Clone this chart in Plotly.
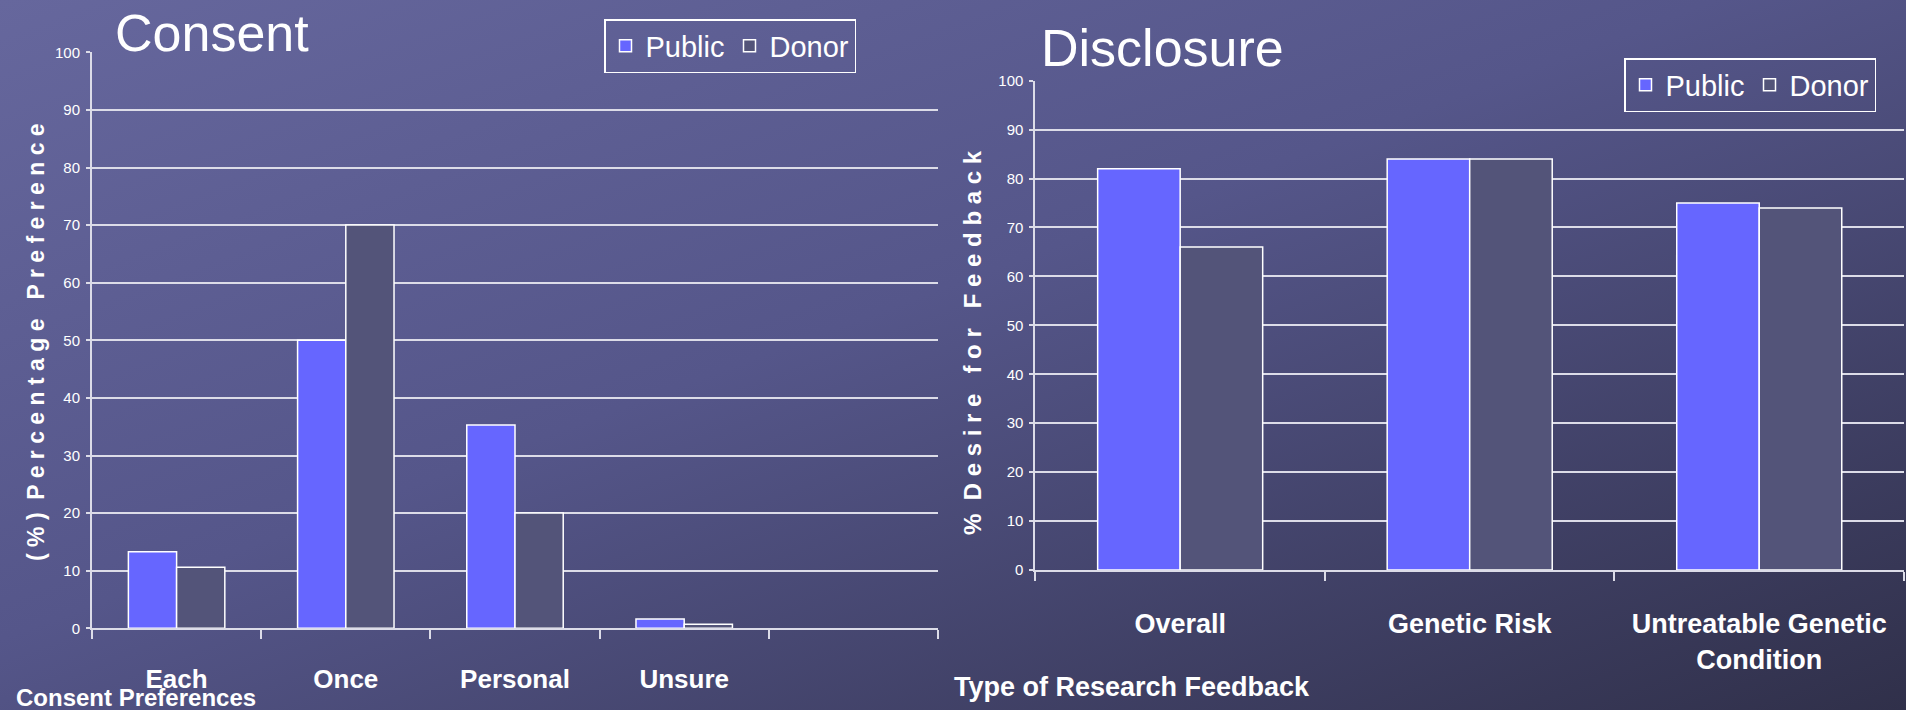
import base64
import plotly.graph_objects as go

# ---------------- data ----------------
consent_categories = ["Each", "Once", "Personal", "Unsure"]
consent_public = [13.3, 50.0, 35.3, 1.6]
consent_donor = [10.6, 70.0, 20.0, 0.7]
consent_axis_slots = consent_categories + [" "]   # the chart keeps one empty slot at the right

disclosure_categories = ["Overall", "Genetic Risk", "Untreatable Genetic<br>Condition"]
disclosure_public = [82.0, 84.0, 75.0]
disclosure_donor = [66.0, 84.0, 74.0]

series_names = ["Public", "Donor"]
y_ticks = [0, 10, 20, 30, 40, 50, 60, 70, 80, 90, 100]

# ---------------- styling ----------------
W, H = 1906, 710
FONT = "Liberation Sans, Arial, sans-serif"
PUBLIC_COLOR = "#6666ff"
DONOR_COLOR = "#535479"
GRID = "#dcdce8"
WHITE = "#ffffff"

def px_x(p):
    return p / W

def px_y(p):
    return 1 - p / H

svg = f"""<svg xmlns='http://www.w3.org/2000/svg' width='{W}' height='{H}' viewBox='0 0 {W} {H}' preserveAspectRatio='none'>
<defs><linearGradient id='g' x1='0' y1='0' x2='1' y2='1'>
<stop offset='0' stop-color='#66679d'/>
<stop offset='0.45' stop-color='#55568a'/>
<stop offset='1' stop-color='#30304a'/>
</linearGradient></defs>
<rect width='{W}' height='{H}' fill='url(#g)'/>
</svg>"""
bg_src = "data:image/svg+xml;base64," + base64.b64encode(svg.encode()).decode()

fig = go.Figure()

fig.add_trace(go.Bar(x=consent_categories, y=consent_public, name=series_names[0],
                     marker=dict(color=PUBLIC_COLOR, line=dict(color=WHITE, width=1.5)),
                     xaxis="x", yaxis="y", legend="legend"))
fig.add_trace(go.Bar(x=consent_categories, y=consent_donor, name=series_names[1],
                     marker=dict(color=DONOR_COLOR, line=dict(color=WHITE, width=1.5)),
                     xaxis="x", yaxis="y", legend="legend"))
fig.add_trace(go.Bar(x=disclosure_categories, y=disclosure_public, name=series_names[0],
                     marker=dict(color=PUBLIC_COLOR, line=dict(color=WHITE, width=1.5)),
                     xaxis="x2", yaxis="y2", legend="legend2"))
fig.add_trace(go.Bar(x=disclosure_categories, y=disclosure_donor, name=series_names[1],
                     marker=dict(color=DONOR_COLOR, line=dict(color=WHITE, width=1.5)),
                     xaxis="x2", yaxis="y2", legend="legend2"))

xaxis_common = dict(type="category", showline=True, linecolor=GRID, linewidth=2, automargin=False,
                    ticks="outside", tickson="boundaries", ticklen=9, tickcolor=GRID, tickwidth=2,
                    showgrid=False, zeroline=False, tickangle=0)
yaxis_common = dict(range=[0, 100], tickvals=y_ticks, showline=True, linecolor=GRID, linewidth=2,
                    ticks="outside", ticklen=4, tickcolor=GRID, tickwidth=2, automargin=False,
                    showgrid=True, gridcolor=GRID, gridwidth=2, zeroline=False,
                    tickfont=dict(family=FONT, size=15, color=WHITE), ticklabelstandoff=3)

legend_common = dict(orientation="h", bgcolor="rgba(0,0,0,0)", bordercolor=WHITE, borderwidth=1.5,
                     font=dict(family=FONT, size=29, color=WHITE), xanchor="left", yanchor="top",
                     itemwidth=30, tracegroupgap=0)

def note(text, x, y, size, bold=True, angle=0, xanchor="center", yanchor="middle"):
    return dict(text=text, x=px_x(x), y=px_y(y), xref="paper", yref="paper",
                xanchor=xanchor, yanchor=yanchor, textangle=angle, showarrow=False,
                font=dict(family=FONT, size=size, color=WHITE, weight="bold" if bold else "normal"))

fig.update_layout(
    width=W, height=H,
    margin=dict(l=0, r=0, t=0, b=0),
    paper_bgcolor="#545583", plot_bgcolor="rgba(0,0,0,0)",
    barmode="group", bargap=0.43, bargroupgap=0,
    showlegend=True,
    xaxis=dict(domain=[px_x(92), px_x(938)], anchor="y", range=[-0.5, 4.5],
               categoryorder="array", categoryarray=consent_axis_slots,
               tickfont=dict(family=FONT, size=26, color=WHITE, weight="bold"),
               ticklabelstandoff=26, **xaxis_common),
    yaxis=dict(domain=[px_y(628.3), px_y(52.3)], anchor="x", **yaxis_common),
    xaxis2=dict(domain=[px_x(1035.4), px_x(1904)], anchor="y2", range=[-0.5, 2.5],
                tickfont=dict(family=FONT, size=27, color=WHITE, weight="bold"),
                ticklabelstandoff=29, **xaxis_common),
    yaxis2=dict(domain=[px_y(570), px_y(80.7)], anchor="x2", **yaxis_common),
    legend=dict(x=px_x(604), y=px_y(19), **legend_common),
    legend2=dict(x=px_x(1624), y=px_y(58), **legend_common),
    images=[dict(source=bg_src, xref="paper", yref="paper", x=0, y=1, sizex=1, sizey=1,
                 xanchor="left", yanchor="top", sizing="stretch", layer="below")],
    annotations=[
        note("Consent", 113, 2, 52, bold=False, xanchor="left", yanchor="top"),
        note("Disclosure", 1039, 17, 52, bold=False, xanchor="left", yanchor="top"),
        note("( % )  P e r c e n t a g e   P r e f e r e n c e", 36, 342, 23, angle=-90),
        note("%  D e s i r e   f o r   F e e d b a c k", 972, 343, 24, angle=-90),
        note("Consent Preferences", 14, 697, 24, xanchor="left"),
        note("Type of Research Feedback", 952, 687, 27, xanchor="left"),
    ],
)

fig.write_html("out.html", config={"displayModeBar": False},
               post_script="document.body.style.margin='0';")
